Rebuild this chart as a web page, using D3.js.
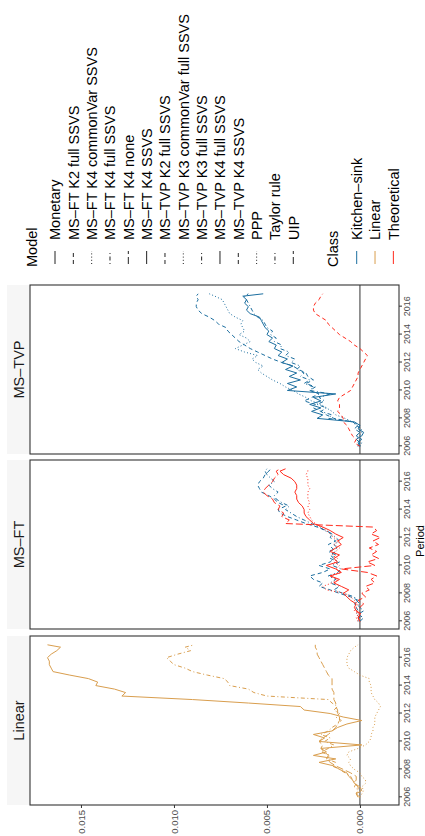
<!DOCTYPE html>
<html>
<head>
<meta charset="utf-8">
<script src="https://cdnjs.cloudflare.com/ajax/libs/d3/7.8.5/d3.min.js"></script>
<style>
  body { margin: 0; background: #fff; }
  svg { display: block; font-family: "Liberation Sans", Arial, sans-serif; }
</style>
</head>
<body>
<svg id="chart" width="425" height="836"></svg>
<script>
// quarterly periods
const dates = [2006.0, 2006.25, 2006.5, 2006.75, 2007.0, 2007.25, 2007.5, 2007.75, 2008.0, 2008.25,
  2008.5, 2008.75, 2009.0, 2009.25, 2009.5, 2009.75, 2010.0, 2010.25, 2010.5, 2010.75,
  2011.0, 2011.25, 2011.5, 2011.75, 2012.0, 2012.25, 2012.5, 2012.75, 2013.0, 2013.25,
  2013.5, 2013.75, 2014.0, 2014.25, 2014.5, 2014.75, 2015.0, 2015.25, 2015.5, 2015.75,
  2016.0, 2016.25, 2016.5, 2016.75, 2016.92];

const panels = ["Linear", "MS–FT", "MS–TVP"];
const models = ["Monetary", "MS–FT K2 full SSVS", "MS–FT K4 commonVar SSVS", "MS–FT K4 full SSVS",
  "MS–FT K4 none", "MS–FT K4 SSVS", "MS–TVP K2 full SSVS", "MS–TVP K3 commonVar full SSVS",
  "MS–TVP K3 full SSVS", "MS–TVP K4 full SSVS", "MS–TVP K4 SSVS", "PPP", "Taylor rule", "UIP"];
const modelLinetypes = ["solid", "dashed", "dotted", "dotdash", "longdash", "solid", "dashed", "dotted",
  "dotdash", "solid", "dashed", "dotted", "dotdash", "longdash"];
const classes = ["Kitchen–sink", "Linear", "Theoretical"];
const classColors = ["#1b6e9f", "#d99e4e", "#ff2a1c"];
const valueTicks = [0, 0.005, 0.010, 0.015];
const yearTicks = [2006, 2008, 2010, 2012, 2014, 2016];

// Linear panel
const monetary = [0.0001, 0.0002, -0.0001, 0.0000, 0.0003, 0.0004, 0.0006, 0.0007, 0.0011, 0.0014,
  0.0022, 0.0013, 0.0025, 0.0018, 0.0021, -0.0001, 0.0022, 0.0019, 0.0025, 0.0015,
  0.0012, 0.0007, -0.0001, 0.0009, 0.0016, 0.0030, 0.0032, 0.0060, 0.0090, 0.0128,
  0.0126, 0.0132, 0.0142, 0.0141, 0.0146, 0.0156, 0.0165, 0.0166, 0.0167, 0.0167,
  0.0168, 0.0166, 0.0163, 0.0161, 0.0168];
const taylorRule = [0.0000, 0.0002, 0.0001, 0.0003, 0.0002, 0.0004, 0.0005, 0.0008, 0.0011, 0.0015,
  0.0013, 0.0018, 0.0016, 0.0021, 0.0017, 0.0014, 0.0019, 0.0016, 0.0021, 0.0017,
  0.0015, 0.0012, 0.0010, 0.0013, 0.0011, 0.0014, 0.0012, 0.0015, 0.0017, 0.0050,
  0.0057, 0.0060, 0.0070, 0.0071, 0.0073, 0.0082, 0.0090, 0.0094, 0.0100, 0.0102,
  0.0104, 0.0098, 0.0091, 0.0094, 0.0089];
const uip = [0.0000, 0.0002, 0.0001, 0.0001, 0.0003, 0.0002, 0.0002, 0.0005, 0.0009, 0.0013,
  0.0016, 0.0018, 0.0017, 0.0019, 0.0021, 0.0020, 0.0022, 0.0020, 0.0017, 0.0015,
  0.0013, 0.0012, 0.0011, 0.0011, 0.0012, 0.0012, 0.0013, 0.0013, 0.0014, 0.0014,
  0.0014, 0.0015, 0.0015, 0.0015, 0.0015, 0.0017, 0.0018, 0.0019, 0.0020, 0.0021,
  0.0022, 0.0023, 0.0023, 0.0024, 0.0024];
const ppp = [0.0000, -0.0001, -0.0002, -0.0001, -0.0003, -0.0003, -0.0001, 0.0000, 0.0003, 0.0005,
  0.0006, 0.0005, 0.0007, 0.0006, 0.0001, -0.0003, -0.0005, -0.0006, -0.0006, -0.0007,
  -0.0007, -0.0008, -0.0008, -0.0008, -0.0009, -0.0010, -0.0011, -0.0010, -0.0008, -0.0007,
  -0.0006, -0.0006, -0.0006, -0.0005, -0.0005, 0.0000, 0.0003, 0.0006, 0.0007, 0.0007,
  0.0007, 0.0006, 0.0005, 0.0003, 0.0001];

// MS-FT panel
const ftK2Full = [0.0000, -0.0002, 0.0001, -0.0002, 0.0000, 0.0003, 0.0001, 0.0005, 0.0011, 0.0016,
  0.0022, 0.0020, 0.0025, 0.0027, 0.0020, 0.0016, 0.0022, 0.0016, 0.0014, 0.0016,
  0.0013, 0.0015, 0.0017, 0.0013, 0.0016, 0.0015, 0.0018, 0.0023, 0.0029, 0.0034,
  0.0039, 0.0043, 0.0044, 0.0040, 0.0044, 0.0046, 0.0049, 0.0053, 0.0054, 0.0055,
  0.0054, 0.0052, 0.0051, 0.0049, 0.0048];
const ftK4CommonVar = [0.0001, 0.0002, 0.0001, 0.0003, 0.0002, 0.0001, 0.0003, 0.0005, 0.0008, 0.0018,
  0.0020, 0.0015, 0.0012, 0.0016, 0.0010, 0.0013, 0.0011, 0.0014, 0.0012, 0.0015,
  0.0013, 0.0011, 0.0014, 0.0012, 0.0014, 0.0016, 0.0018, 0.0021, 0.0024, 0.0026,
  0.0027, 0.0028, 0.0027, 0.0028, 0.0027, 0.0028, 0.0028, 0.0028, 0.0027, 0.0028,
  0.0028, 0.0028, 0.0029, 0.0028, 0.0028];
const ftK4Full = [0.0001, 0.0000, 0.0002, 0.0001, 0.0002, 0.0000, 0.0002, 0.0003, 0.0009, 0.0014,
  0.0011, 0.0016, 0.0013, 0.0017, 0.0012, 0.0010, 0.0015, 0.0011, 0.0016, 0.0013,
  0.0017, 0.0012, 0.0014, 0.0011, 0.0013, 0.0015, 0.0019, 0.0022, 0.0026, 0.0030,
  0.0034, 0.0037, 0.0040, 0.0038, 0.0042, 0.0045, 0.0046, 0.0044, 0.0047, 0.0049,
  0.0046, 0.0048, 0.0050, 0.0051, 0.0050];
const ftK4None = [0.0000, 0.0001, -0.0001, 0.0002, 0.0000, -0.0002, 0.0001, -0.0003, -0.0001, -0.0005,
  -0.0003, -0.0008, -0.0006, -0.0009, -0.0004, 0.0010, -0.0008, -0.0004, -0.0010, -0.0006,
  -0.0009, -0.0005, -0.0010, -0.0007, -0.0011, -0.0006, -0.0009, -0.0007, 0.0040, 0.0038,
  0.0042, 0.0041, 0.0044, 0.0043, 0.0046, 0.0047, 0.0050, 0.0052, 0.0051, 0.0049,
  0.0047, 0.0046, 0.0044, 0.0045, 0.0043];
const ftK4Ssvs = [0.0000, 0.0001, 0.0000, 0.0002, 0.0003, 0.0002, 0.0005, 0.0007, 0.0009, 0.0006,
  0.0010, 0.0014, 0.0011, 0.0016, 0.0010, 0.0013, 0.0018, 0.0012, 0.0014, 0.0011,
  0.0016, 0.0013, 0.0010, 0.0012, 0.0009, 0.0013, 0.0016, 0.0020, 0.0025, 0.0027,
  0.0029, 0.0030, 0.0030, 0.0031, 0.0033, 0.0034, 0.0034, 0.0035, 0.0034, 0.0034,
  0.0035, 0.0037, 0.0041, 0.0043, 0.0040];

// MS-TVP panel
const tvpK2Full = [0.0000, 0.0001, -0.0001, 0.0002, 0.0000, 0.0003, 0.0001, 0.0004, 0.0014, 0.0018,
  0.0021, 0.0025, 0.0024, 0.0030, 0.0026, 0.0022, 0.0027, 0.0024, 0.0029, 0.0025,
  0.0028, 0.0029, 0.0033, 0.0036, 0.0042, 0.0047, 0.0051, 0.0055, 0.0059, 0.0062,
  0.0065, 0.0067, 0.0069, 0.0071, 0.0072, 0.0076, 0.0078, 0.0081, 0.0085, 0.0087,
  0.0088, 0.0088, 0.0087, 0.0088, 0.0087];
const tvpK3CommonVar = [0.0000, -0.0001, 0.0002, 0.0000, -0.0001, 0.0001, 0.0000, 0.0004, 0.0008, 0.0013,
  0.0015, 0.0018, 0.0021, 0.0026, 0.0029, 0.0033, 0.0036, 0.0040, 0.0043, 0.0047,
  0.0050, 0.0053, 0.0055, 0.0052, 0.0056, 0.0058, 0.0055, 0.0062, 0.0067, 0.0063,
  0.0059, 0.0061, 0.0065, 0.0062, 0.0063, 0.0064, 0.0063, 0.0067, 0.0070, 0.0071,
  0.0072, 0.0073, 0.0074, 0.0078, 0.0081];
const tvpK3Full = [0.0001, 0.0001, 0.0000, 0.0002, 0.0000, -0.0001, 0.0002, 0.0004, 0.0017, 0.0015,
  0.0021, 0.0018, 0.0023, 0.0019, 0.0022, 0.0016, 0.0027, 0.0025, 0.0030, 0.0027,
  0.0032, 0.0030, 0.0034, 0.0032, 0.0037, 0.0035, 0.0040, 0.0038, 0.0043, 0.0042,
  0.0046, 0.0045, 0.0048, 0.0047, 0.0050, 0.0051, 0.0052, 0.0055, 0.0057, 0.0058,
  0.0059, 0.0060, 0.0061, 0.0062, 0.0060];
const tvpK4Full = [0.0001, 0.0000, 0.0002, -0.0001, -0.0002, 0.0001, 0.0000, 0.0003, 0.0023, 0.0020,
  0.0026, 0.0021, 0.0027, 0.0021, 0.0025, 0.0013, 0.0039, 0.0034, 0.0039, 0.0032,
  0.0038, 0.0034, 0.0040, 0.0036, 0.0042, 0.0039, 0.0044, 0.0042, 0.0046, 0.0045,
  0.0049, 0.0047, 0.0050, 0.0049, 0.0051, 0.0052, 0.0053, 0.0054, 0.0059, 0.0061,
  0.0060, 0.0062, 0.0061, 0.0063, 0.0052];
const tvpK4Ssvs = [0.0000, 0.0003, 0.0002, 0.0004, 0.0005, 0.0006, 0.0007, 0.0009, 0.0009, 0.0010,
  0.0012, 0.0011, 0.0011, 0.0012, 0.0011, 0.0008, 0.0005, 0.0004, 0.0003, 0.0002,
  0.0001, 0.0001, 0.0000, -0.0001, -0.0002, -0.0003, -0.0004, -0.0002, 0.0000, 0.0003,
  0.0005, 0.0008, 0.0011, 0.0013, 0.0015, 0.0017, 0.0018, 0.0021, 0.0024, 0.0025,
  0.0025, 0.0024, 0.0022, 0.0021, 0.0020];

const series = [
  { panel: "Linear", model: "PPP", cls: "Linear", values: ppp },
  { panel: "Linear", model: "UIP", cls: "Linear", values: uip },
  { panel: "Linear", model: "Taylor rule", cls: "Linear", values: taylorRule },
  { panel: "Linear", model: "Monetary", cls: "Linear", values: monetary },
  { panel: "MS–FT", model: "MS–FT K2 full SSVS", cls: "Kitchen–sink", values: ftK2Full },
  { panel: "MS–FT", model: "MS–FT K4 full SSVS", cls: "Kitchen–sink", values: ftK4Full },
  { panel: "MS–FT", model: "MS–FT K4 commonVar SSVS", cls: "Theoretical", values: ftK4CommonVar },
  { panel: "MS–FT", model: "MS–FT K4 none", cls: "Theoretical", values: ftK4None },
  { panel: "MS–FT", model: "MS–FT K4 SSVS", cls: "Theoretical", values: ftK4Ssvs },
  { panel: "MS–TVP", model: "MS–TVP K2 full SSVS", cls: "Kitchen–sink", values: tvpK2Full },
  { panel: "MS–TVP", model: "MS–TVP K3 commonVar full SSVS", cls: "Kitchen–sink", values: tvpK3CommonVar },
  { panel: "MS–TVP", model: "MS–TVP K3 full SSVS", cls: "Kitchen–sink", values: tvpK3Full },
  { panel: "MS–TVP", model: "MS–TVP K4 full SSVS", cls: "Kitchen–sink", values: tvpK4Full },
  { panel: "MS–TVP", model: "MS–TVP K4 SSVS", cls: "Theoretical", values: tvpK4Ssvs }
];

const dashes = { solid: null, dashed: "4,3", dotted: "1,2.2", dotdash: "1,2.5,4,2.5", longdash: "7,3" };
const lineColor = d3.scaleOrdinal().domain(classes).range(classColors);
const lineType = d3.scaleOrdinal().domain(models).range(modelLinetypes);

// the plot is built as a landscape 836x425 figure and turned a quarter turn
const W = 836;
const svg = d3.select("#chart");
svg.append("rect").attr("width", 425).attr("height", 836).attr("fill", "#fff");
const root = svg.append("g").attr("transform", `translate(0,${W}) rotate(-90)`);

const panelX = [[31, 200], [207, 376], [382, 551]];
const stripTop = 7, panelTop = 30, panelBottom = 399;

const y = d3.scaleLinear().domain([-0.0021, 0.01774]).range([panelBottom, panelTop]);

panels.forEach((name, i) => {
  const [x0, x1] = panelX[i];
  const x = d3.scaleLinear().domain([2005.45, 2017.55]).range([x0, x1]);
  const g = root.append("g");

  g.append("rect")
    .attr("x", x0).attr("y", stripTop)
    .attr("width", x1 - x0).attr("height", panelTop - stripTop)
    .attr("fill", "#f6f6f6");
  g.append("text")
    .attr("x", (x0 + x1) / 2).attr("y", (stripTop + panelTop) / 2)
    .attr("dy", "0.36em")
    .attr("text-anchor", "middle")
    .attr("font-size", 14.5)
    .attr("fill", "#1a1a1a")
    .text(name);

  g.append("line")
    .attr("x1", x0).attr("x2", x1)
    .attr("y1", y(0)).attr("y2", y(0))
    .attr("stroke", "#333").attr("stroke-width", 1);

  const line = d3.line().x((d, k) => x(dates[k])).y(d => y(d));
  series.filter(s => s.panel === name).forEach(s => {
    g.append("path")
      .datum(s.values)
      .attr("d", line)
      .attr("fill", "none")
      .attr("stroke", lineColor(s.cls))
      .attr("stroke-width", 1)
      .attr("stroke-dasharray", dashes[lineType(s.model)]);
  });

  g.append("rect")
    .attr("x", x0).attr("y", panelTop)
    .attr("width", x1 - x0).attr("height", panelBottom - panelTop)
    .attr("fill", "none").attr("stroke", "#333").attr("stroke-width", 1.1);

  const ax = g.append("g")
    .attr("transform", `translate(0,${panelBottom})`)
    .call(d3.axisBottom(x).tickValues(yearTicks).tickFormat(d3.format("d")).tickSize(3).tickPadding(2));
  ax.select(".domain").remove();
  ax.selectAll(".tick line").attr("stroke", "#333");
  ax.selectAll("text")
    .attr("font-size", 9)
    .attr("font-family", "Liberation Sans, Arial, sans-serif")
    .attr("fill", "#4d4d4d");

  if (i === 0) {
    const ay = g.append("g")
      .attr("transform", `translate(${x0},0)`)
      .call(d3.axisLeft(y).tickValues(valueTicks).tickFormat(d3.format(".3f")).tickSize(3).tickPadding(2));
    ay.select(".domain").remove();
    ay.selectAll(".tick line").attr("stroke", "#333");
    ay.selectAll("text")
      .attr("font-size", 9.5)
      .attr("font-family", "Liberation Sans, Arial, sans-serif")
      .attr("fill", "#4d4d4d");
  }
});

root.append("text")
  .attr("x", (panelX[0][0] + panelX[2][1]) / 2 + 4).attr("y", 424)
  .attr("text-anchor", "middle")
  .attr("font-size", 11)
  .attr("fill", "#000")
  .text("Period");

// legends
const legX = 569, keyX0 = 572, keyX1 = 585, labelX = 596, step = 18.33;
const legend = root.append("g").attr("font-size", 14.5).attr("fill", "#000");

legend.append("text").attr("x", legX).attr("y", 32).attr("dy", "0.36em").text("Model");
const mItems = legend.selectAll(".model-item").data(models).join("g")
  .attr("class", "model-item")
  .attr("transform", (d, k) => `translate(0,${55 + k * step})`);
mItems.append("line")
  .attr("x1", keyX0).attr("x2", keyX1)
  .attr("stroke", "#222").attr("stroke-width", 1)
  .attr("stroke-dasharray", d => dashes[lineType(d)]);
mItems.append("text").attr("x", labelX).attr("dy", "0.36em").text(d => d);

legend.append("text").attr("x", legX).attr("y", 333).attr("dy", "0.36em").text("Class");
const cItems = legend.selectAll(".class-item").data(classes).join("g")
  .attr("class", "class-item")
  .attr("transform", (d, k) => `translate(0,${356.7 + k * step})`);
cItems.append("line")
  .attr("x1", keyX0).attr("x2", keyX1)
  .attr("stroke", d => lineColor(d)).attr("stroke-width", 1);
cItems.append("text").attr("x", labelX).attr("dy", "0.36em").text(d => d);
</script>
</body>
</html>
